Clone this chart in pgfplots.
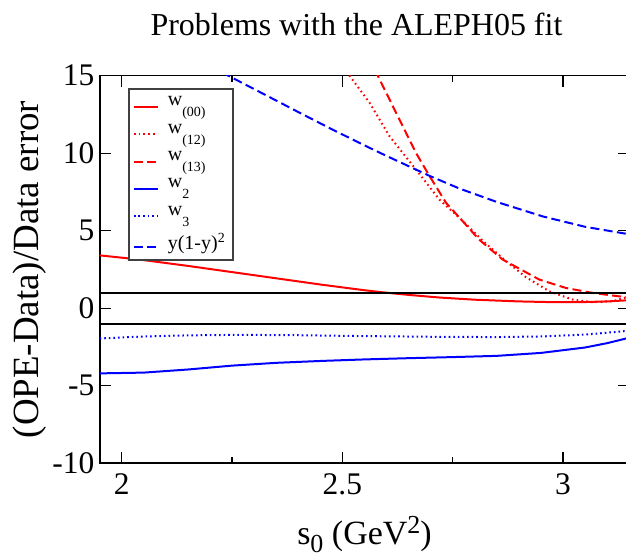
\documentclass[border=0pt]{standalone}
\usepackage{fontspec}
\setmainfont{Liberation Serif}
\usepackage{pgfplots}
\pgfplotsset{compat=1.18}

% lowered / raised small text as in the original legend
\newcommand\lsub[1]{\raisebox{-5.5pt}{\fontsize{7}{8}\selectfont #1}}
\newcommand\lsup[1]{\raisebox{3.5pt}{\fontsize{7}{8}\selectfont #1}}

\begin{document}
\begin{tikzpicture}
\begin{axis}[
    name=ax,
    scale only axis,
    width=265.2pt, height=194.15pt,
    xmin=1.95, xmax=3.15, ymin=-10, ymax=15,
    xtick={2,2.5,3}, minor xtick={2.25,2.75},
    xticklabels={2,2.5,3},
    ytick={-10,-5,0,5,10,15},
    yticklabels={-10,-5,0,5,10,15},
    tick align=inside,
    major tick length=5.5pt, minor tick length=3pt,
    every tick/.style={black, line width=0.6pt},
    axis line style={line width=0.9pt},
    tick label style={font=\rmfamily\fontsize{15.75}{18}\selectfont},
    xticklabel style={anchor=base, yshift=-15.5pt},
    yticklabel style={anchor=east, inner xsep=0pt, xshift=-2.5pt},
    title={Problems with the ALEPH05 fit},
    title style={font=\fontsize{16}{19}\selectfont, at={(axis description cs:0.5,1)},
        anchor=base, yshift=13.85pt, xshift=-4pt},
    xlabel={s\raisebox{-4.3pt}{\fontsize{13}{15}\selectfont 0} (GeV\raisebox{5.5pt}{\fontsize{13}{15}\selectfont 2})},
    xlabel style={font=\fontsize{17}{20}\selectfont, at={(axis description cs:0.5,0)},
        anchor=base, yshift=-40.5pt},
    ylabel={(OPE-Data)/Data error},
    ylabel style={font=\fontsize{18.5}{21}\selectfont, at={(axis description cs:0,0.5)},
        rotate=0, anchor=base, yshift=30.65pt},
    legend style={at={(0,1)}, anchor=north west, xshift=14.25pt, yshift=-6.3pt,
        draw=black!75, line width=0.8pt, font=\fontsize{10}{12}\selectfont,
        inner xsep=2pt, inner ysep=1.8pt, row sep=3.6pt, column sep=2.5pt,
        cells={anchor=west}},
    legend image code/.code={\draw[#1] (0pt,-2.2pt) -- (12pt,-2.2pt);},
]
\addplot[red, line width=1pt] coordinates {
(1.95,3.41) (2.04,3.14) (2.15,2.73) (2.25,2.33) (2.35,1.93) (2.45,1.53)
(2.55,1.16) (2.6,1.0) (2.65,0.86) (2.72,0.69) (2.8,0.55) (2.9,0.44)
(2.98,0.39) (3.05,0.40) (3.1,0.44) (3.15,0.52)};
\addlegendentry{w\lsub{(00)}}
\addplot[red, line width=1pt, dash pattern=on 0.8pt off 1.6pt] coordinates {
(2.49,16.0) (2.516,15) (2.562,13.23) (2.607,11.08) (2.667,8.93) (2.72,7.0)
(2.77,5.7) (2.82,4.3) (2.871,3.03) (2.916,2.0) (2.969,1.09) (3.021,0.56)
(3.066,0.39) (3.112,0.45) (3.139,0.67) (3.15,0.78)};
\addlegendentry{w\lsub{(12)}}
\addplot[red, line width=1pt, dash pattern=on 4.5pt off 2.2pt] coordinates {
(2.56,16.15) (2.58,15) (2.622,12.58) (2.667,10.0) (2.697,8.54) (2.735,6.79)
(2.765,5.85) (2.81,4.42) (2.863,3.14) (2.946,1.85) (3.006,1.31) (3.066,0.99)
(3.126,0.77) (3.15,0.72)};
\addlegendentry{w\lsub{(13)}}
\addplot[blue, line width=1pt] coordinates {
(1.95,-4.2) (2.05,-4.15) (2.15,-3.95) (2.25,-3.7) (2.35,-3.52) (2.45,-3.4)
(2.55,-3.3) (2.65,-3.22) (2.75,-3.15) (2.85,-3.07) (2.95,-2.88) (3.05,-2.53)
(3.1,-2.25) (3.15,-1.9)};
\addlegendentry{w\lsub{2}}
\addplot[blue, line width=1pt, dash pattern=on 0.8pt off 1.5pt] coordinates {
(1.95,-1.95) (2.05,-1.82) (2.15,-1.75) (2.25,-1.72) (2.38,-1.73) (2.5,-1.78)
(2.7,-1.84) (2.85,-1.86) (2.95,-1.82) (3.05,-1.7) (3.15,-1.45)};
\addlegendentry{w\lsub{3}}
\addplot[blue, line width=1pt, dash pattern=on 4.5pt off 2.2pt] coordinates {
(2.2,15.6) (2.241,15) (2.3,14.13) (2.4,12.65) (2.479,11.5) (2.55,10.5)
(2.6,9.82) (2.697,8.54) (2.765,7.72) (2.85,6.85) (2.954,5.92) (3.05,5.25)
(3.141,4.81) (3.15,4.77)};
\addlegendentry{y(1-y)\lsup{2}}
\addplot[black, line width=0.8pt, forget plot] coordinates {(1.95,1) (3.15,1)};
\addplot[black, line width=0.8pt, forget plot] coordinates {(1.95,-1) (3.15,-1)};
\end{axis}
\pgfresetboundingbox
\path ([xshift=-49.9pt,yshift=-47pt]ax.south west) rectangle ([xshift=-1.65pt,yshift=37.85pt]ax.north east);
\end{tikzpicture}
\end{document}
